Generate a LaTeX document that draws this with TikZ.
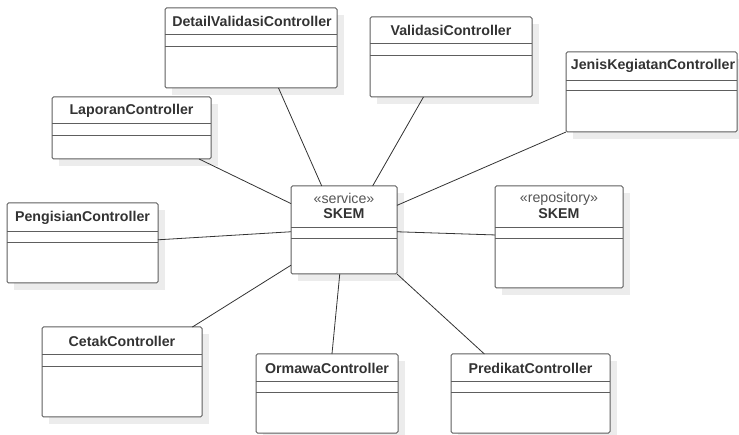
\documentclass[tikz,border=0pt]{standalone}
\usepackage{fontspec}
\setmainfont{Liberation Sans}
\usetikzlibrary{calc}
\definecolor{boxcol}{HTML}{5E5E5E}
\definecolor{txtcol}{HTML}{333333}
\definecolor{stcol}{HTML}{555555}
\definecolor{shcol}{HTML}{ECECEC}
\definecolor{conncol}{HTML}{333333}
\tikzset{
  boxst/.style={draw=boxcol, line width=1pt, rounded corners=1.5pt, fill=white, inner sep=0pt, outer sep=0pt, anchor=north west},
  divline/.style={draw=boxcol, line width=1pt},
  shadowst/.style={fill=shcol},
  titlest/.style={font=\fontsize{14.2}{16}\selectfont\bfseries, text=txtcol, inner sep=0pt},
  stereost/.style={font=\fontsize{14.2}{16}\selectfont, text=stcol, inner sep=0pt},
  conn/.style={draw=conncol, line width=0.8pt}
}
% name, x1, y1, x2, y2, divider1, divider2
\newcommand\umlclassbox[7]{%
  \fill[shadowst] (#2+7,#3+7) rectangle (#4+7,#5+7);
  \node[boxst, minimum width={(#4-#2)*1pt}, minimum height={(#5-#3)*1pt}] (#1) at (#2,#3) {};
  \draw[divline] (#2,#6) -- (#4,#6);
  \draw[divline] (#2,#7) -- (#4,#7);
}
\begin{document}
\begin{tikzpicture}[x=1pt,y=-1pt]
\useasboundingbox (0,0) rectangle (739,435);

\umlclassbox{dv}{165}{8}{337}{88}{35}{47}
\node[titlest] (dvt) at (252,21.5) {DetailValidasiController};

\umlclassbox{val}{370}{17}{532}{97}{44}{56}
\node[titlest] (valt) at (451,30.5) {ValidasiController};

\umlclassbox{jk}{566}{52}{737}{132}{81}{91}
\node[titlest] (jkt) at (653,66) {JenisKegiatanController};

\umlclassbox{lap}{52}{97}{211}{159}{124}{136}
\node[titlest] (lapt) at (131.5,110.5) {LaporanController};

\umlclassbox{peng}{7}{203}{158}{283}{232}{243}
\node[titlest] (pengt) at (82.5,217.5) {PengisianController};

\umlclassbox{cet}{42}{327}{202}{417}{355}{367}
\node[titlest] (cett) at (122,341) {CetakController};

\umlclassbox{orm}{256}{354}{398}{433}{382}{393}
\node[titlest] (ormt) at (327,368) {OrmawaController};

\umlclassbox{pred}{451}{354}{610}{433}{382}{393}
\node[titlest] (predt) at (530.5,368) {PredikatController};

\umlclassbox{svc}{291}{186}{397}{274}{228}{239}
\node[stereost] (svcs) at (344,198) {«service»};
\node[titlest] (svct) at (344,213.5) {SKEM};

\umlclassbox{repo}{495}{186}{623}{288}{228}{239}
\node[stereost] (repos) at (559,198.5) {«repository»};
\node[titlest] (repot) at (559,214) {SKEM};

% connectors
\draw[conn] ($(dv.south west)!0.66!(dv.south east)$) -- ($(svc.north west)!0.29!(svc.north east)$);
\draw[conn] ($(val.south west)!0.33!(val.south east)$) -- ($(svc.north west)!0.77!(svc.north east)$);
\draw[conn] (jk.south west) -- ($(svc.north east)!0.22!(svc.south east)$);
\draw[conn] ($(lap.south west)!0.925!(lap.south east)$) -- ($(svc.north west)!0.2!(svc.south west)$);
\draw[conn] ($(peng.north east)!0.46!(peng.south east)$) -- ($(svc.north west)!0.52!(svc.south west)$);
\draw[conn] ($(cet.north west)!0.94!(cet.north east)$) -- ($(svc.north west)!0.9!(svc.south west)$);
\draw[conn] ($(orm.north west)!0.535!(orm.north east)$) -- ($(svc.south west)!0.46!(svc.south east)$);
\draw[conn] ($(pred.north west)!0.21!(pred.north east)$) -- (svc.south east);
\draw[conn] ($(svc.north east)!0.52!(svc.south east)$) -- ($(repo.north west)!0.48!(repo.south west)$);
\end{tikzpicture}
\end{document}
